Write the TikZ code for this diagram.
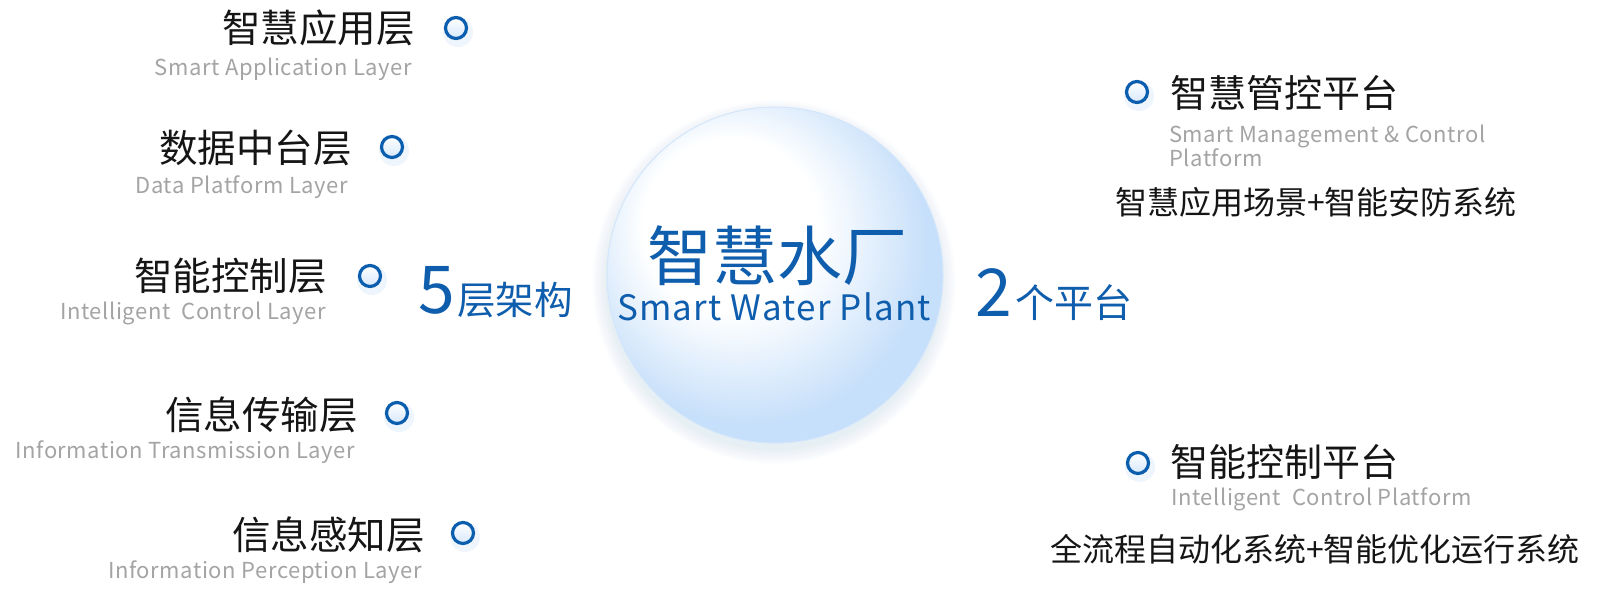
\documentclass[tikz,border=0pt]{standalone}
\usepackage{fontspec}
\setmainfont{Noto Sans CJK SC}
\newfontfamily\enfont[LetterSpace=2.5]{Noto Sans CJK SC}
\newfontfamily\titlefont[LetterSpace=3.5]{Noto Sans CJK SC}
\definecolor{bblue}{HTML}{0B5EAD}
\definecolor{tblue}{HTML}{0F5DAD}
\definecolor{zhblack}{HTML}{151515}
\definecolor{engray}{HTML}{A4A4A4}
\definecolor{orbB}{HTML}{C6DFFA}
\definecolor{orbedge}{HTML}{D3E6FB}
\definecolor{glowc}{HTML}{A8CDF4}
\definecolor{bulin}{HTML}{D6E8FB}
\pgfdeclareradialshading{orbshade}{\pgfpoint{-9bp}{10bp}}{color(0bp)=(white); color(13bp)=(white); color(27bp)=(orbB); color(50bp)=(orbB)}
\tikzset{
  zh/.style={inner sep=0pt, text=zhblack, font=\fontsize{38.5pt}{40pt}\selectfont},
  en/.style={inner sep=0pt, text=engray, font=\enfont\fontsize{22pt}{24pt}\selectfont},
  sub/.style={inner sep=0pt, text=zhblack, font=\fontsize{32pt}{34pt}\selectfont},
  big/.style={inner sep=0pt, text=tblue},
  bul/.style={circle, draw=bblue, line width=3.2pt, minimum size=21pt, inner sep=0pt, top color=white, bottom color=bulin},
  bulglow/.style={circle, fill=glowc, opacity=0.18, minimum size=30pt, inner sep=0pt}
}
\newcommand{\bulletat}[2]{%
  \node[bulglow] at ($(#1)+(2,4)$) {};
  \node[bul] (#2) at (#1) {};}
\usetikzlibrary{calc}
\begin{document}
\begin{tikzpicture}[x=1pt,y=-1pt]
\useasboundingbox (0,0) rectangle (1600,589);
\fill[white] (0,0) rectangle (1600,589);

% glow of the orb
\foreach \r in {1,...,12}{
  \fill[glowc, opacity=0.025] (774,282) circle ({166+\r*1.3pt});
}
\shade[shading=orbshade] (775,275) circle (168pt);
\draw[orbedge, line width=1pt] (775,275) circle (168pt);

% centre title
\node[big, anchor=base, font=\fontsize{65pt}{66pt}\selectfont] (ttl) at (777,280) {智慧水厂};
\node[big, anchor=base, font=\titlefont\fontsize{35pt}{36pt}\selectfont] (ttlen) at (774,320) {Smart Water Plant};

% 5 layers / 2 platforms
\node[big, anchor=base west, font=\fontsize{66pt}{66pt}\selectfont] (five) at (418,313) {5};
\node[big, anchor=base west, font=\fontsize{38.5pt}{40pt}\selectfont] (fivet) at (457,314) {层架构};
\node[big, anchor=base west, font=\fontsize{66pt}{66pt}\selectfont] (two) at (975,316) {2};
\node[big, anchor=base west, font=\fontsize{39pt}{40pt}\selectfont] (twot) at (1015,317) {个平台};

% left layers
\node[zh, anchor=base east] (l1) at (415,42) {智慧应用层};
\node[en, anchor=base east] (l1e) at (412,75) {Smart Application Layer};
\node[zh, anchor=base east] (l2) at (352,162) {数据中台层};
\node[en, anchor=base east] (l2e) at (348,193) {Data Platform Layer};
\node[zh, anchor=base east] (l3) at (327,290) {智能控制层};
\node[en, anchor=base east] (l3e) at (326,319) {Intelligent\ \ Control Layer};
\node[zh, anchor=base east] (l4) at (358,429) {信息传输层};
\node[en, anchor=base east] (l4e) at (355,458) {Information Transmission Layer};
\node[zh, anchor=base east] (l5) at (425,549) {信息感知层};
\node[en, anchor=base east] (l5e) at (422,578) {Information Perception Layer};

\coordinate (c1) at (456,28);
\coordinate (c2) at (392,147);
\coordinate (c3) at (370,276);
\coordinate (c4) at (397,413);
\coordinate (c5) at (463,533);
\coordinate (c6) at (1137,92);
\coordinate (c7) at (1138,463);
\bulletat{c1}{b1}
\bulletat{c2}{b2}
\bulletat{c3}{b3}
\bulletat{c4}{b4}
\bulletat{c5}{b5}
\bulletat{c6}{b6}
\bulletat{c7}{b7}

% right platforms
\node[zh, anchor=base west, font=\fontsize{38pt}{40pt}\selectfont] (r1) at (1170,107) {智慧管控平台};
\node[en, anchor=base west] (r1e) at (1169,142) {Smart Management \& Control};
\node[en, anchor=base west] (r1f) at (1169,166) {Platform};
\node[sub, anchor=base west] (r1s) at (1115,214) {智慧应用场景+智能安防系统};

\node[zh, anchor=base west, font=\fontsize{38pt}{40pt}\selectfont] (r2) at (1170,476) {智能控制平台};
\node[en, anchor=base west] (r2e) at (1171,505) {Intelligent\ \ Control Platform};
\node[sub, anchor=base west] (r2s) at (1050,561) {全流程自动化系统+智能优化运行系统};
\end{tikzpicture}
\end{document}
